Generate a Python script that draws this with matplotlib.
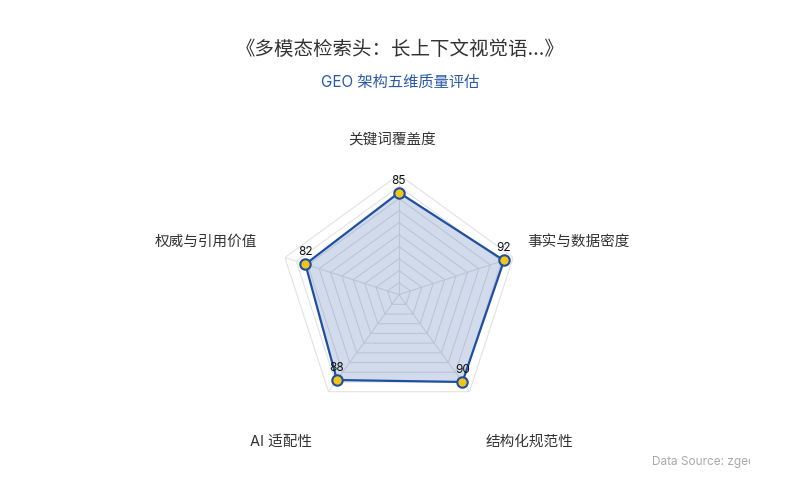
import numpy as np
import matplotlib
matplotlib.use("Agg")
import matplotlib.pyplot as plt
from matplotlib.transforms import Bbox

plt.rcParams['font.family'] = ['Inter', 'Noto Sans CJK SC', 'DejaVu Sans']

# ---- data ----
categories = ['关键词覆盖度', '事实与数据密度', '结构化规范性', 'AI 适配性', '权威与引用价值']
values = [85, 92, 90, 88, 82]
max_value = 100
ring_levels = [10, 20, 30, 40, 50, 60, 70, 80, 90, 100]
title = '《多模态检索头：长上下文视觉语...》'
subtitle = 'GEO 架构五维质量评估'
source = 'Data Source: zgeo.ai'

# label offsets (pixels) from each outer vertex, and alignment
label_offsets = [(-7, 34), (14, 16), (16, -50), (-16, -50), (-28, 16)]
label_ha = ['center', 'left', 'left', 'right', 'right']

line_color = '#1f4fa0'
grid_color = '#e2e2e2'

fig = plt.figure(figsize=(8, 5), dpi=100)
fig.patch.set_facecolor('white')

cx, cy, R = 399, 294.6, 120
ax = fig.add_axes([(cx - R) / 800, (500 - cy - R) / 500, 2 * R / 800, 2 * R / 500],
                  projection='polar')
ax.set_theta_zero_location('N')
ax.set_theta_direction(-1)
ax.set_ylim(0, max_value)
ax.grid(False)
ax.spines['polar'].set_visible(False)
ax.set_xticks([])
ax.set_yticks([])
ax.patch.set_alpha(0)

n = len(categories)
angles = np.arange(n) * 2 * np.pi / n
closed_angles = np.append(angles, angles[0])

# grid rings (pentagons)
for lvl in ring_levels:
    ax.plot(closed_angles, [lvl] * (n + 1), color=grid_color, lw=0.8, zorder=1)
# spokes
for a in angles:
    ax.plot([a, a], [0, max_value], color=grid_color, lw=0.8, zorder=1)

vals_closed = values + values[:1]
ax.fill(closed_angles, vals_closed, color=line_color, alpha=0.2, zorder=2, lw=0)
ax.plot(closed_angles, vals_closed, color=line_color, lw=1.6, zorder=3)
ax.plot(angles, values, 'o', ms=7.5, mfc='#f2c318', mec=line_color, mew=1.5, zorder=4)

for a, v in zip(angles, values):
    ax.annotate(str(v), xy=(a, v), xytext=(0, 12), textcoords='offset pixels',
                ha='center', va='center', fontsize=8.5, color='#111111', zorder=5)

for a, name, off, ha in zip(angles, categories, label_offsets, label_ha):
    ax.annotate(name, xy=(a, max_value), xytext=off, textcoords='offset pixels',
                ha=ha, va='center', fontsize=10.5, color='#333333',
                annotation_clip=False)

fig.text(0.5, 1 - 50 / 500, title, ha='center', va='center', fontsize=14, color='#333333')
fig.text(0.5, 1 - 82 / 500, subtitle, ha='center', va='center', fontsize=11, color='#2a5aa8')

src = fig.text(652 / 800, 1 - 462 / 500, source, ha='left', va='center', fontsize=8.5, color='#aaaaaa')
src.set_clip_box(Bbox.from_extents(0, 0, 750, 500))
src.set_clip_on(True)

fig.savefig('out.png', dpi=100, facecolor='white')
